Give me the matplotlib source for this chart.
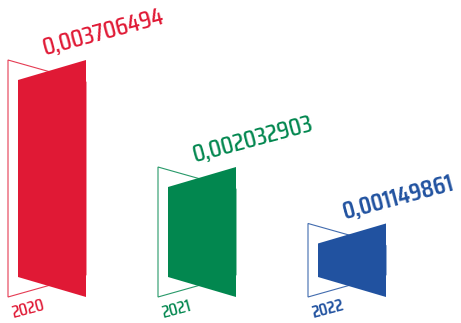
import matplotlib.pyplot as plt
from matplotlib.patches import Polygon

# data
years = ['2020', '2021', '2022']
values = [0.003706494, 0.002032903, 0.001149861]
value_labels = ['0,003706494', '0,002032903', '0,001149861']
colors = ['#E01935', '#02874F', '#2152A0']
label_weights = ['medium', 'medium', 'semibold']

W, H = 461, 323
BASE_PX = 297          # pixel row of the baseline
TOP_PX = 60            # pixel row of the tallest bar
SLOT_PX = 150          # distance between bars
LEFT_PX = 8
FONT = 'Saira Condensed'

fig = plt.figure(figsize=(W / 100, H / 100), dpi=100)
ax = fig.add_axes([0, 0, 1, 1])
ax.set_axis_off()

unit = max(values) / (BASE_PX - TOP_PX)   # value per pixel
ax.set_ylim(-(H - BASE_PX) * unit, BASE_PX * unit)
ax.set_xlim(-LEFT_PX / SLOT_PX, (W - LEFT_PX) / SLOT_PX)

px = 1 / SLOT_PX
d = 20 * unit          # perspective drop
front_l = 10 * px
right = 78 * px

for i, (v, c) in enumerate(zip(values, colors)):
    back = Polygon([(i, v), (i + right, v - d - 2 * unit), (i + right, d + 2 * unit), (i, 0)],
                   closed=True, fill=False, edgecolor=c, linewidth=0.8, alpha=0.85)
    ax.add_patch(back)
    front = Polygon([(i + front_l, v - d), (i + right, v), (i + right, 0), (i + front_l, d)],
                    closed=True, facecolor=c, edgecolor='none')
    ax.add_patch(front)

    ax.text(i + front_l + 27 * px, v - d + 25 * unit, value_labels[i], color=c,
            fontsize=18.5, family=FONT, weight=label_weights[i], rotation=15,
            rotation_mode='anchor', ha='left', va='baseline')
    ax.text(i + 5 * px, -21 * unit, years[i], color=c, fontsize=13, family=FONT,
            weight=label_weights[i], rotation=15, rotation_mode='anchor',
            ha='left', va='baseline')

fig.savefig('out.png', dpi=100)
